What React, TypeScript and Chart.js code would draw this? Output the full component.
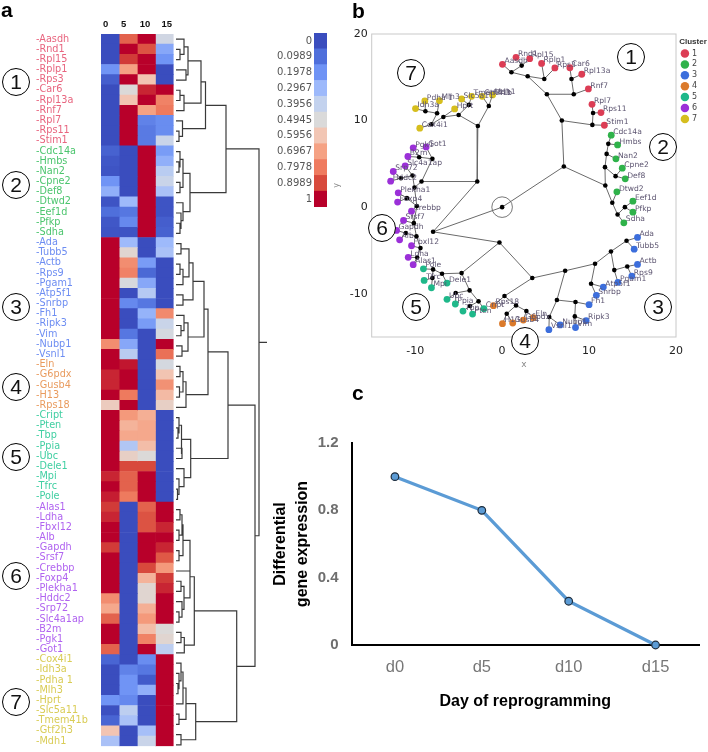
import React, { useEffect, useRef } from "react";
import { Chart, registerables } from "chart.js";

Chart.register(...registerables);

// ---------- panel a: heat map ----------
const dayLabels = ["0", "5", "10", "15"];
const dayTickPositions = [0.25, 1.25, 2.42, 3.62];
const cluster1Rows: [string, number, number, number, number][] = [
  ["Aasdh", 0, 0.85, 1, 0.45], ["Rnd1", 0, 1, 0.88, 0.25], ["Rpl15", 0, 0.92, 1, 0.2], ["Rplp1", 0.2, 0.7, 1, 0],
  ["Rps3", 0.05, 1, 0.6, 0], ["Car6", 0, 0.5, 0.95, 1], ["Rpl13a", 0, 0.6, 1, 0.78], ["Rnf7", 0, 1, 0.7, 0.8],
  ["Rpl7", 0, 1, 0.15, 0.18], ["Rps11", 0, 1, 0.13, 0.18], ["Stim1", 0, 1, 0.13, 0.42],
];
const cluster2Rows: [string, number, number, number, number][] = [
  ["Cdc14a", 0.06, 0, 1, 0.22], ["Hmbs", 0.03, 0, 1, 0.27], ["Nan2", 0.02, 0, 1, 0.37], ["Cpne2", 0.2, 0, 1, 0.42],
  ["Def8", 0.27, 0, 1, 0.33], ["Dtwd2", 0.02, 0.3, 1, 0.02], ["Eef1d", 0.1, 0.12, 1, 0.02], ["Pfkp", 0.03, 0.17, 1, 0.05],
  ["Sdha", 0.02, 0.02, 1, 0.06],
];
const cluster3Rows: [string, number, number, number, number][] = [
  ["Ada", 1, 0.3, 0, 0.3], ["Tubb5", 1, 0.52, 0, 0.33], ["Actb", 1, 0.75, 0.22, 0], ["Rps9", 1, 0.78, 0.08, 0],
  ["Pgam1", 1, 0.48, 0.25, 0], ["Atp5f1", 1, 0, 0.36, 0], ["Snrbp", 1, 0.17, 0.12, 0], ["Fh1", 1, 0, 0.28, 0.76],
  ["Ripk3", 1, 0, 0.22, 0.42], ["Vim", 1, 0.12, 0, 0.47], ["Nubp1", 0.75, 0.25, 0, 1], ["Vsnl1", 1, 0.37, 0, 0.82],
];
const cluster4Rows: [string, number, number, number, number][] = [
  ["Eln", 1, 0.97, 0, 0.47], ["G6pdx", 0.95, 1, 0, 0.6], ["Gusb4", 0.95, 1, 0, 0.74], ["H13", 1, 0.8, 0, 0.63],
  ["Rps18", 0.57, 1, 0, 0.55],
];
const cluster5Rows: [string, number, number, number, number][] = [
  ["Cript", 1, 0.72, 0.66, 0], ["Pten", 1, 0.65, 0.68, 0], ["Tbp", 1, 0.68, 0.68, 0], ["Ppia", 1, 0.35, 0.62, 0],
  ["Ubc", 1, 0.55, 0.5, 0], ["Dele1", 1, 0.9, 0.9, 0], ["Mpi", 0.95, 0.85, 1, 0], ["Tfrc", 1, 0.85, 1, 0],
  ["Pole", 0.96, 0.8, 1, 0],
];
const cluster6Rows: [string, number, number, number, number][] = [
  ["Alas1", 0.92, 0, 0.85, 1], ["Ldha", 0.95, 0, 0.88, 1], ["Fbxl12", 1, 0, 0.88, 0.95], ["Alb", 1, 0, 1, 1],
  ["Gapdh", 0.92, 0, 1, 0.95], ["Srsf7", 1, 0, 1, 0.87], ["Crebbp", 1, 0, 0.9, 0.72], ["Foxp4", 1, 0, 0.65, 0.92],
  ["Plekha1", 1, 0, 0.52, 0.95], ["Hddc2", 0.75, 0, 0.52, 1], ["Srp72", 0.68, 0, 0.66, 1], ["Slc4a1ap", 0.85, 0, 0.72, 1],
  ["B2m", 1, 0, 0.62, 0.5], ["Pgk1", 1, 0, 0.78, 0.52], ["Got1", 0.85, 0, 1, 0.38],
];
const cluster7Rows: [string, number, number, number, number][] = [
  ["Cox4i1", 0.07, 0, 0.18, 1], ["Idh3a", 0, 0.15, 0.12, 1], ["Pdha 1", 0, 0.2, 0.04, 1], ["Mlh3", 0, 0.2, 0.27, 1],
  ["Hprt", 0.2, 0.17, 0, 1], ["Slc5a11", 0.01, 0.38, 0, 1], ["Tmem41b", 0.07, 0.33, 0, 1], ["Gtf2h3", 0.6, 0, 0.32, 1],
  ["Mdh1", 0.33, 0, 0.42, 1],
];
const heatClusters = [cluster1Rows, cluster2Rows, cluster3Rows, cluster4Rows, cluster5Rows, cluster6Rows, cluster7Rows];
const labelColors = ["#E8657F", "#4CC56E", "#6D8DF2", "#E99B5E", "#40CFA2", "#B063F0", "#D9CC55"];

const legendValues = [0, 0.0989, 0.1978, 0.2967, 0.3956, 0.4945, 0.5956, 0.6967, 0.7978, 0.8989, 1];
const legendColors = ["#3A4DBE", "#4F6FDB", "#6F93F5", "#9DB9FB", "#C3D2EE", "#DADADA", "#F2C6B4", "#F5A284", "#EF7B5F", "#D84A3C", "#B8002A"];

// Dendrogram: [merge height, child, child]; a number is a heat-map row.
type Den = number | [number, Den, Den];
const den1: Den = [29.5,
  [25, [12, [8, 0, [4, 1, 2]], [10, 3, 4]], [8, [4, 5, 6], 7]],
  [6.5, 8, [3, 9, 10]]];
const den2: Den = [14,
  [7, [4, 11, [3, 12, 13]], [4, 14, 15]],
  [7, 16, [5, 17, [4, 18, 19]]]];
const den3: Den = [28,
  [17, [13, [5, 20, 21], [7, [4, 22, 23], 24]], [7, 25, 26]],
  [12, [8, 27, [5, 28, 29]], [6, 30, 31]]];
const den4: Den = [10, [7, [4, 32, 33], [3.5, 34, 35]], 36];
const den5: Den = [14.7,
  [5.5, [3, 37, [2, 38, 39]], [6, 40, 41]],
  [8, 42, [3, 43, [1.5, 44, 45]]]];
const den6: Den = [18.3,
  [14,
    [14, [7, [6, [4, 46, 47], [3, 48, 49]], [3, 50, 51]], 52],
    [8, [5, 53, 54], [6, 55, [3, 56, 57]]]],
  [8.3, [5, 58, 59], 60]];
const den7: Den = [19.7,
  [10, [7, [5, 61, [3, 62, [2, 63, 64]]], 65], [3, 66, 67]],
  [5, 68, 69]];
const denRoot: Den = [83,
  [50, den1, den2],
  [79, [52, [32, den3, den4], den5], [60.7, den6, den7]]];
const denRootStub = 91;

// ---------- panel b: tree ----------
// [id, x, y, parent id]
const branchNodes: [string, number, number, string | null][] = [
  ["root", 0, 0, null], ["A", 7.1, 4.69, "root"], ["C", -7.94, -2.85, "root"], ["D", -2.86, 2.96, "C"],
  ["E", -0.31, -4.08, "C"], ["F", 3.47, -8.19, "E"], ["G", -4.66, -7.62, "E"], ["H4", 0.27, -10.27, "F"],
  ["H3", 7.25, -7.35, "F"], ["N1", 6.87, 10.0, "A"], ["N2", 11.87, 2.5, "A"], ["N11", 5.15, 13.04, "N1"],
  ["N12", 10.38, 9.5, "N1"], ["N121", 10.46, 10.88, "N12"], ["N111", 2.94, 15.12, "N11"], ["N112", 8.24, 13.04, "N11"],
  ["a", 1.07, 15.58, "N111"], ["b", 2.25, 16.35, "a"], ["c", 4.85, 14.81, "N111"], ["d", 7.98, 14.81, "N112"],
  ["e", 11.83, 4.62, "N2"], ["f", 12.02, 6.15, "e"], ["g", 12.21, 7.31, "f"], ["h", 13.05, 3.58, "e"],
  ["i", 12.67, 0.5, "N2"], ["j", 13.28, -0.85, "i"], ["k", 14.12, 0, "j"],
  ["l", 6.3, -10.73, "H3"], ["m", 10.69, -6.54, "H3"], ["n", 5.42, -12.69, "l"], ["o", 8.44, -10.96, "l"],
  ["p", 8.36, -12.62, "o"], ["q", 10.23, -8.85, "m"], ["r", 12.52, -5.12, "m"], ["s", 14.31, -3.88, "r"],
  ["t", 12.9, -7.27, "r"], ["u", 14.39, -6.85, "t"],
  ["v", 1.6, -11.35, "H4"], ["w", 0.53, -12.31, "v"], ["x", 2.79, -12, "v"],
  ["y", -6.91, -7.69, "G"], ["z", -7.94, -7.19, "y"], ["aa", -8.02, -8.19, "z"], ["ab", -3.74, -9.62, "G"],
  ["ac", -5.34, -9.92, "ab"], ["ad", -2.71, -10.88, "ab"], ["ae", -3.7, -11.42, "ad"],
  ["af", -9.27, 2.96, "D"], ["ag", -2.79, 9.38, "D"], ["ah", -1.53, 11.69, "ag"], ["ai", -5, 10.65, "ag"],
  ["aj", -3.82, 11.81, "ai"], ["ak", -6.76, 10.42, "ai"], ["al", -8.13, 9.58, "ak"], ["am", -7.48, 10.85, "al"],
  ["an", -8.82, 11.08, "am"], ["ao", -8.02, 5.58, "af"], ["ap", -9.54, 5.77, "ao"], ["aq", -10.08, 2.27, "af"],
  ["ar", -10.31, 3.65, "aq"], ["as", -11.64, 3.35, "ar"], ["at", -9.81, 0.12, "aq"], ["au", -10.95, 1.04, "at"],
  ["av", -10.15, -1.85, "at"], ["aw", -9.85, -3.38, "av"], ["ax", -11.07, -3, "aw"], ["ay", -9.39, -4.73, "aw"],
  ["az", -9.77, -5.81, "ay"],
];
// [gene, x, y, parent id]
type Leaf = [string, number, number, string];
const leaves1: Leaf[] = [
  ["Aasdh", 0.04, 16.5, "a"], ["Rnd1", 1.6, 17.3, "b"], ["Rpl15", 3.17, 17.15, "b"], ["Rplp1", 4.54, 16.6, "c"],
  ["Rps3", 6.07, 16.08, "c"], ["Car6", 7.79, 16.1, "d"], ["Rpl13a", 9.16, 15.35, "d"], ["Rnf7", 9.92, 13.65, "N112"],
  ["Rpl7", 10.34, 11.88, "N121"], ["Rps11", 11.37, 10.92, "N121"], ["Stim1", 11.76, 9.46, "N12"],
];
const leaves2: Leaf[] = [
  ["Cdc14a", 12.55, 8.31, "g"], ["Hmbs", 13.28, 7.19, "g"], ["Nan2", 13.09, 5.58, "f"], ["Cpne2", 13.82, 4.5, "h"],
  ["Def8", 14.16, 3.27, "h"], ["Dtwd2", 13.2, 1.77, "i"], ["Eef1d", 15.04, 0.69, "k"], ["Pfkp", 15.04, -0.58, "k"],
  ["Sdha", 14.0, -1.81, "j"],
];
const leaves3: Leaf[] = [
  ["Ada", 15.57, -3.5, "s"], ["Tubb5", 15.19, -4.85, "s"], ["Actb", 15.57, -6.62, "u"], ["Rps9", 14.92, -7.96, "u"],
  ["Pgam1", 13.32, -8.69, "t"], ["Atp5f1", 11.64, -9.23, "q"], ["Snrbp", 10.84, -10.19, "q"], ["Fh1", 10.0, -11.27, "o"],
  ["Ripk3", 9.66, -13.1, "p"], ["Vim", 8.44, -13.9, "p"], ["Nubp1", 6.68, -13.6, "n"], ["Vsnl1", 5.38, -14.15, "n"],
];
const leaves4: Leaf[] = [
  ["Eln", 3.59, -12.77, "x"], ["G6pdx", 2.44, -13.04, "x"], ["Gusb4", 1.22, -13.38, "w"], ["H13", 0.04, -13.46, "w"],
  ["Rps18", -1, -11.38, "H4"],
];
const leaves5: Leaf[] = [
  ["Cript", -2.1, -11.73, "ad"], ["Pten", -3.4, -12.35, "ae"], ["Tbp", -4.5, -12, "ae"], ["Ppia", -5.38, -11.19, "ac"],
  ["Ubc", -6.34, -10.65, "ac"], ["Dele1", -6.34, -8.77, "y"], ["Mpi", -8.13, -9.31, "aa"], ["Tfrc", -8.97, -8.46, "aa"],
  ["Pole", -9.05, -7.12, "z"],
];
const leaves6: Leaf[] = [
  ["Alas1", -10.23, -6.65, "az"], ["Ldha", -10.8, -5.8, "az"], ["Fbxl12", -10.42, -4.46, "ay"], ["Alb", -11.79, -3.77, "ax"],
  ["Gapdh", -12.14, -2.69, "ax"], ["Srsf7", -11.34, -1.54, "av"], ["Crebbp", -10.42, -0.46, "av"], ["Foxp4", -12.02, 0.58, "au"],
  ["Plekha1", -11.95, 1.65, "au"], ["Hddc2", -12.82, 3, "as"], ["Srp72", -12.52, 4.12, "as"], ["Slc4a1ap", -11.15, 4.77, "ar"],
  ["B2m", -10.84, 5.85, "ap"], ["Pgk1", -10.23, 6.85, "ap"], ["Got1", -8.74, 6.96, "ao"],
];
const leaves7: Leaf[] = [
  ["Cox4i1", -9.47, 9.12, "al"], ["Idh3a", -9.96, 11.38, "an"], ["Pdha 1", -8.89, 12.27, "an"], ["Mlh3", -7.21, 12.3, "am"],
  ["Hprt", -5.46, 11.35, "ak"], ["Slc5a11", -4.66, 12.5, "aj"], ["Tmem41b", -3.51, 12.8, "aj"], ["Gtf2h3", -2.29, 12.8, "ah"],
  ["Mdh1", -1.1, 12.96, "ah"],
];
const clusterLeaves = [leaves1, leaves2, leaves3, leaves4, leaves5, leaves6, leaves7];
const clusterNames = ["1", "2", "3", "4", "5", "6", "7"];
const clusterColors = ["#DC3D55", "#2FB24A", "#3C6EDC", "#DB7A2B", "#1FB88A", "#9B30D8", "#D6BE1E"];

// ---------- panel c ----------
const reprogDays = ["d0", "d5", "d10", "d15"];
const reprogExpression = [1, 0.8, 0.26, 0];

// ---------- annotations ----------
const circledA: [string, number, number][] = [["1", 16, 82], ["2", 16, 185], ["3", 16, 307], ["4", 16, 387], ["5", 16, 457], ["6", 16, 576], ["7", 16, 702]];
const circledB: [string, number, number][] = [["1", 631, 57], ["7", 411, 73], ["2", 663, 147], ["6", 382, 228], ["5", 416, 307], ["3", 658, 307], ["4", 525, 341]];

function heatColor(v: number): string {
  let i = 0;
  while (i < legendValues.length - 2 && v > legendValues[i + 1]) i++;
  const t = Math.min(1, Math.max(0, (v - legendValues[i]) / (legendValues[i + 1] - legendValues[i])));
  const rgb = (h: string) => [1, 3, 5].map((k) => parseInt(h.slice(k, k + 2), 16));
  const a = rgb(legendColors[i]);
  const b = rgb(legendColors[i + 1]);
  return `rgb(${a.map((c, k) => Math.round(c + (b[k] - c) * t)).join(",")})`;
}

function dendroPoints(): { x: number; y: number }[] {
  const pts: { x: number; y: number }[] = [];
  const gap = () => pts.push({ x: NaN, y: NaN });
  const walk = (n: Den): { h: number; y: number } => {
    if (typeof n === "number") return { h: 0, y: n + 0.5 };
    const a = walk(n[1]);
    const b = walk(n[2]);
    pts.push({ x: a.h, y: a.y }, { x: n[0], y: a.y }, { x: n[0], y: b.y }, { x: b.h, y: b.y });
    gap();
    return { h: n[0], y: (a.y + b.y) / 2 };
  };
  const r = walk(denRoot);
  pts.push({ x: r.h, y: r.y }, { x: denRootStub, y: r.y });
  return pts;
}

const GENE_FONT = "'DejaVu Sans', sans-serif";
const ARIAL = "'Liberation Sans', Arial, sans-serif";

export default function App() {
  const heatRef = useRef<HTMLCanvasElement>(null);
  const denRef = useRef<HTMLCanvasElement>(null);
  const legRef = useRef<HTMLCanvasElement>(null);
  const treeRef = useRef<HTMLCanvasElement>(null);
  const lineRef = useRef<HTMLCanvasElement>(null);

  useEffect(() => {
    const charts: Chart[] = [];
    const rows = heatClusters.flat();
    const rowColors = heatClusters.flatMap((c, i) => c.map(() => labelColors[i]));

    charts.push(new Chart(heatRef.current!, {
      type: "bar",
      data: {
        labels: rows.map((r) => r[0]),
        datasets: dayLabels.map((d, col) => ({
          label: d,
          data: rows.map(() => 1),
          backgroundColor: rows.map((r) => heatColor(r[col + 1] as number)),
          borderWidth: 0,
          barPercentage: 1,
          categoryPercentage: 1,
        })),
      },
      options: {
        indexAxis: "y",
        responsive: false,
        animation: false,
        layout: { padding: { left: 36, bottom: 2, top: 0, right: 0 } },
        plugins: { legend: { display: false }, tooltip: { enabled: false } },
        scales: {
          x: {
            stacked: true, position: "top", min: 0, max: 4,
            grid: { display: false, drawTicks: false }, border: { display: false },
            afterFit: (s: any) => { s.height = 34; },
            afterBuildTicks: (s: any) => { s.ticks = dayTickPositions.map((v) => ({ value: v })); },
            ticks: {
              autoSkip: false, maxRotation: 0, padding: 4, color: "#111",
              font: { family: ARIAL, size: 9.5, weight: "bold" },
              callback: (_v: any, i: number) => dayLabels[i],
            },
          },
          y: {
            stacked: true,
            grid: { display: false, drawTicks: false }, border: { display: false },
            afterFit: (s: any) => { s.width = 65; },
            ticks: {
              autoSkip: false, crossAlign: "far", padding: 0,
              font: { family: GENE_FONT, size: 9.7 },
              color: (c: any) => rowColors[c.index],
              callback: (_v: any, i: number) => "-" + rows[i][0],
            },
          },
        },
      },
    } as any));

    charts.push(new Chart(denRef.current!, {
      type: "scatter",
      data: {
        datasets: [{
          data: dendroPoints(), showLine: true, spanGaps: false, pointRadius: 0,
          borderColor: "#3a3a3a", borderWidth: 1.2, tension: 0,
        }],
      },
      options: {
        responsive: false, animation: false,
        plugins: { legend: { display: false }, tooltip: { enabled: false } },
        scales: {
          x: { type: "linear", display: false, min: 0, max: 100 },
          y: { type: "linear", display: false, min: 0, max: rows.length, reverse: true },
        },
      },
    } as any));

    charts.push(new Chart(legRef.current!, {
      type: "bar",
      data: {
        labels: legendValues.map(String),
        datasets: [{
          data: legendValues.map(() => 1), backgroundColor: legendColors, borderWidth: 0,
          barPercentage: 1, categoryPercentage: 1,
        }],
      },
      options: {
        indexAxis: "y", responsive: false, animation: false,
        layout: { padding: { top: 5, bottom: 3, left: 0, right: 5 } },
        plugins: { legend: { display: false }, tooltip: { enabled: false } },
        scales: {
          x: { display: false, min: 0, max: 1 },
          y: {
            grid: { display: false, drawTicks: false }, border: { display: false },
            afterFit: (s: any) => { s.width = 52; },
            ticks: { autoSkip: false, padding: 2, color: "#555", font: { family: GENE_FONT, size: 10 } },
          },
        },
      },
    } as any));

    const nodeById: Record<string, [number, number]> = {};
    branchNodes.forEach((n) => { nodeById[n[0]] = [n[1], n[2]]; });
    const edgePts: { x: number; y: number }[] = [];
    const addEdge = (x: number, y: number, p: string | null) => {
      if (!p) return;
      edgePts.push({ x, y }, { x: nodeById[p][0], y: nodeById[p][1] }, { x: NaN, y: NaN });
    };
    branchNodes.forEach((n) => addEdge(n[1], n[2], n[3]));
    clusterLeaves.flat().forEach((l) => addEdge(l[1], l[2], l[3]));

    const plotFrame = {
      id: "plotFrame",
      beforeDatasetsDraw(c: any) {
        const { left, top, width, height } = c.chartArea;
        c.ctx.save();
        c.ctx.strokeStyle = "#c9c9c9";
        c.ctx.lineWidth = 1;
        c.ctx.strokeRect(left, top, width, height);
        c.ctx.restore();
      },
    };
    const geneNames = {
      id: "geneNames",
      afterDatasetsDraw(c: any) {
        const ctx = c.ctx;
        ctx.save();
        ctx.font = `7.6px ${GENE_FONT}`;
        ctx.fillStyle = "#5c5470";
        ctx.textAlign = "left";
        ctx.textBaseline = "middle";
        clusterLeaves.forEach((list, di) => {
          const els = c.getDatasetMeta(di).data;
          list.forEach((l, i) => ctx.fillText(l[0], els[i].x + 2, els[i].y - 3.3));
        });
        ctx.restore();
      },
    };
    const legendNudge = {
      id: "legendNudge",
      afterLayout(c: any) {
        c.legend.left += 3;
        c.legend.right += 3;
      },
    };

    charts.push(new Chart(treeRef.current!, {
      type: "scatter",
      data: {
        datasets: [
          ...clusterLeaves.map((list, i) => ({
            label: clusterNames[i],
            data: list.map((l) => ({ x: l[1], y: l[2] })),
            backgroundColor: clusterColors[i],
            borderColor: clusterColors[i],
            pointStyle: "circle",
            pointRadius: 3.4,
            borderWidth: 0,
            order: 1,
          })),
          {
            label: "branch nodes",
            data: branchNodes.map((n) => ({ x: n[1], y: n[2] })),
            backgroundColor: "#000", pointRadius: 2.3, borderWidth: 0, order: 2,
          },
          {
            label: "branches",
            data: edgePts, showLine: true, spanGaps: false, pointRadius: 0,
            borderColor: "#6a6a6a", borderWidth: 1, tension: 0, order: 3,
          },
          {
            label: "root ring",
            data: [{ x: branchNodes[0][1], y: branchNodes[0][2] }],
            backgroundColor: "transparent", borderColor: "#555", borderWidth: 0.8,
            pointRadius: 10.3, order: 4,
          },
        ],
      },
      options: {
        responsive: false, animation: false,
        layout: { padding: { top: 34, right: 4, left: 0, bottom: 0 } },
        plugins: {
          tooltip: { enabled: false },
          legend: {
            position: "right", align: "start",
            title: { display: true, text: "Cluster", color: "#333", padding: { top: 4, bottom: -1 }, font: { family: ARIAL, size: 8, weight: "bold" } },
            labels: {
              usePointStyle: true, boxWidth: 6, boxHeight: 6, padding: 2.9, color: "#444",
              font: { family: GENE_FONT, size: 8 },
              filter: (it: any) => it.datasetIndex < clusterLeaves.length,
            },
          },
        },
        scales: {
          x: {
            type: "linear", min: -15, max: 20,
            grid: { display: false, drawTicks: false }, border: { display: false },
            afterFit: (s: any) => { s.height = 38; },
            title: { display: true, text: "x", color: "#888", padding: { top: 0, bottom: 5 }, font: { family: GENE_FONT, size: 9 } },
            ticks: { stepSize: 10, includeBounds: false, padding: 8, color: "#222", font: { family: GENE_FONT, size: 11 } },
          },
          y: {
            type: "linear", min: -15, max: 20,
            grid: { display: false, drawTicks: false }, border: { display: false },
            afterFit: (s: any) => { s.width = 41.7; },
            title: { display: true, text: "y", color: "#888", padding: { top: 2, bottom: 0 }, font: { family: GENE_FONT, size: 8 } },
            ticks: { stepSize: 10, includeBounds: false, padding: 4, color: "#222", font: { family: GENE_FONT, size: 11 } },
          },
        },
      },
      plugins: [plotFrame, geneNames, legendNudge],
    } as any));

    charts.push(new Chart(lineRef.current!, {
      type: "line",
      data: {
        labels: reprogDays,
        datasets: [{
          data: reprogExpression, borderColor: "#5B9BD5", borderWidth: 3.3, tension: 0, clip: false,
          pointBackgroundColor: "#5B9BD5", pointBorderColor: "#1d2c3c", pointBorderWidth: 1.2, pointRadius: 3.8,
        }],
      },
      options: {
        responsive: false, animation: false,
        layout: { padding: { top: 23, right: 9, left: 0, bottom: 0 } },
        plugins: { legend: { display: false }, tooltip: { enabled: false } },
        scales: {
          x: {
            offset: true,
            grid: { display: false, drawTicks: false }, border: { display: true, color: "#000", width: 2 },
            afterFit: (s: any) => { s.height = 75; },
            title: { display: true, text: "Day of reprogramming", color: "#000", padding: { top: 0, bottom: 9 }, font: { family: ARIAL, size: 16, weight: "bold" } },
            ticks: { padding: 13, color: "#777", font: { family: ARIAL, size: 16.5 } },
          },
          y: {
            min: 0, max: 1.2,
            grid: { display: false, drawTicks: false }, border: { display: true, color: "#000", width: 2 },
            afterFit: (s: any) => { s.width = 91.5; },
            title: {
              display: true, text: ["Differential", "gene expression"], color: "#000",
              padding: { top: 10, bottom: 0 }, font: { family: ARIAL, size: 16, weight: "bold", lineHeight: 1.35 },
            },
            ticks: {
              stepSize: 0.4, padding: 13, color: "#6e6e6e", font: { family: ARIAL, size: 15, weight: "bold" },
              callback: (v: any) => (Math.abs(v) < 1e-6 ? "0" : Number(v).toFixed(1)),
            },
          },
        },
      },
    } as any));

    return () => charts.forEach((c) => c.destroy());
  }, []);

  const abs = (left: number, top: number): React.CSSProperties => ({ position: "absolute", left, top, display: "block" });
  const circled = (list: [string, number, number][], fill: string) =>
    list.map(([t, x, y]) => (
      <div key={t + x} style={{
        position: "absolute", left: x - 14, top: y - 14, width: 28, height: 28, boxSizing: "border-box",
        border: "1.4px solid #000", borderRadius: "50%", background: fill, color: "#111",
        font: `21px ${ARIAL}`, display: "flex", alignItems: "center", justifyContent: "center",
      }}>{t}</div>
    ));
  const letter = (t: string, left: number, top: number) => (
    <div style={{ position: "absolute", left, top, font: `bold 21px ${ARIAL}`, color: "#000", lineHeight: "21px" }}>{t}</div>
  );

  return (
    <div style={{ position: "absolute", left: 0, top: 0, width: 708, height: 752, overflow: "hidden", background: "#fff" }}>
      <canvas ref={heatRef} width={176} height={752} style={abs(0, 0)} />
      <canvas ref={denRef} width={100} height={716} style={abs(176, 34)} />
      <canvas ref={legRef} width={70} height={190} style={abs(262, 25)} />
      <canvas ref={lineRef} width={448} height={300} style={abs(260, 420)} />
      <canvas ref={treeRef} width={378} height={375} style={abs(330, 0)} />
      {circled(circledA, "transparent")}
      {circled(circledB, "#fff")}
      {letter("a", 1, -1)}
      {letter("b", 352, 0)}
      {letter("c", 352, 382)}
    </div>
  );
}
